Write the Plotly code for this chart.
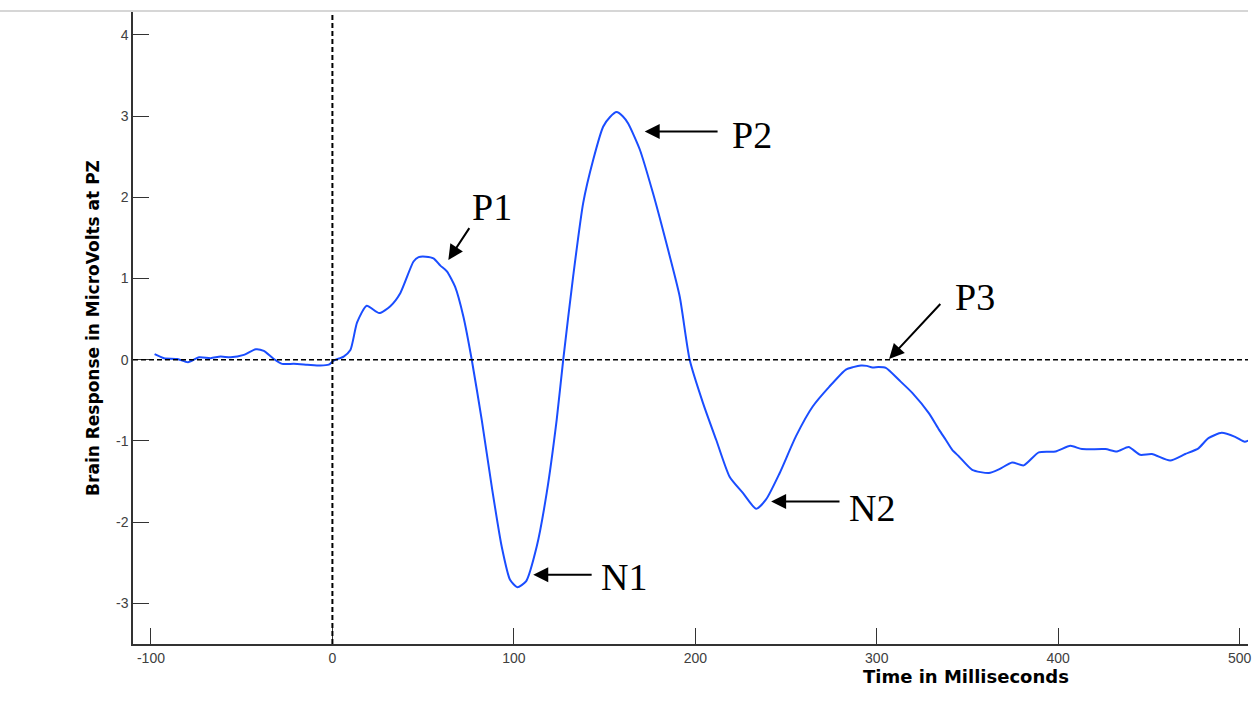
import plotly.graph_objects as go

# ---- data ----
time_ms = [-98, -92.8, -85.4, -79.6, -73.5, -67.1, -61.6, -56.1, -48.8, -42.3, -37.8, -32.3,
           -27.7, -21.3, -13.9, -6.6, -2, 0.7, 6.2, 9.9, 13.6, 18.9, 25.8, 31.9, 37.4, 44.7,
           47.5, 51.5, 55.7, 59.5, 63.1, 67.6, 72.2, 76.8, 82.3, 87.8, 93.3, 97.9, 101.9,
           106.7, 112.6, 118.1, 123.6, 127.2, 132.7, 138.2, 143.7, 149.2, 153, 156.6, 160,
           163, 169.4, 176.7, 184, 191.4, 196.9, 204.2, 211.5, 218.9, 226.2, 233.5, 239,
           246.4, 255.5, 264.7, 273.9, 283, 287, 291.3, 294.5, 297.6, 301, 305, 312.3, 319.7,
           328.8, 334.3, 338, 341.6, 345.3, 352.6, 361.8, 367.3, 374.6, 381, 389.3, 398.5,
           406.7, 413.1, 426, 432.4, 438.8, 445.2, 451.6, 461.7, 470, 477.3, 482.8, 490.1,
           497.5, 502.8, 505.7]
microvolts = [0.07, 0.02, 0.01, -0.03, 0.03, 0.02, 0.04, 0.03, 0.06, 0.13, 0.11, 0.01,
              -0.05, -0.05, -0.06, -0.07, -0.06, -0.01, 0.04, 0.12, 0.46, 0.665, 0.575, 0.66,
              0.82, 1.21, 1.265, 1.27, 1.25, 1.16, 1.09, 0.90, 0.53, 0.0, -0.74, -1.56, -2.30,
              -2.71, -2.80, -2.73, -2.30, -1.64, -0.74, 0.0, 1.03, 1.93, 2.46, 2.87, 2.99, 3.05,
              3.0, 2.91, 2.59, 2.05, 1.44, 0.78, 0.0, -0.53, -0.985, -1.44, -1.64, -1.835, -1.72,
              -1.40, -0.94, -0.575, -0.33, -0.12, -0.09, -0.07, -0.075, -0.095, -0.09, -0.10,
              -0.25, -0.41, -0.66, -0.86, -0.985, -1.11, -1.19, -1.355, -1.395, -1.35, -1.265,
              -1.30, -1.14, -1.13, -1.06, -1.10, -1.10, -1.13, -1.075, -1.17, -1.16, -1.24,
              -1.16, -1.09, -0.965, -0.90, -0.95, -1.01, -0.985]

x_ticks = [-100, 0, 100, 200, 300, 400, 500]
y_ticks = [-3, -2, -1, 0, 1, 2, 3, 4]

# peak labels: name, arrow head (t, v), arrow tail (t, v), label centre (t, v)
peak_names = ["P1", "N1", "P2", "N2", "P3"]
head_t = [63.9, 110.7, 172.1, 241.8, 306.8]
head_v = [1.23, -2.648, 2.81, -1.745, 0.01]
tail_t = [76.0, 143.7, 213.1, 280.3, 335.8]
tail_v = [1.64, -2.648, 2.81, -1.745, 0.706]
label_t = [88.2, 160.8, 231.2, 297.5, 354.1]
label_v = [1.88, -2.68, 2.77, -1.82, 0.77]

X_RANGE = [-109.9, 504.6]
Y_RANGE = [-3.5, 4.283]

fig = go.Figure()
fig.add_trace(go.Scatter(x=time_ms, y=microvolts, mode="lines",
                         line=dict(color="#1a4dff", width=2, shape="spline", smoothing=0.6),
                         showlegend=False, hoverinfo="skip"))

# dashed reference lines
fig.add_shape(type="line", xref="x", yref="paper", x0=0, x1=0, y0=0, y1=1,
              line=dict(color="black", width=2, dash="5px,3px"))
fig.add_shape(type="line", xref="paper", yref="y", x0=0, x1=1, y0=0, y1=0,
              line=dict(color="black", width=1.6, dash="5px,3px"))
# thin frame line at the top of the picture
fig.add_shape(type="line", xref="paper", yref="paper", x0=-0.2, x1=1.0, y0=1.0016, y1=1.0016,
              line=dict(color="#c8c8c8", width=1.5))

for name, ht, hv, tt, tv, lt, lv in zip(peak_names, head_t, head_v, tail_t, tail_v,
                                        label_t, label_v):
    fig.add_annotation(x=ht, y=hv, ax=tt, ay=tv, xref="x", yref="y", axref="x", ayref="y",
                       text="", showarrow=True, arrowhead=2, arrowsize=1.5, arrowwidth=2,
                       arrowcolor="black", standoff=0, startstandoff=0)
    fig.add_annotation(x=lt, y=lv, xref="x", yref="y", text=name, showarrow=False,
                       font=dict(family="Liberation Serif", size=38, color="black"),
                       xanchor="center", yanchor="middle")

fig.add_annotation(x=0.747, y=-0.052, xref="paper", yref="paper",
                   text="<b>Time in Milliseconds</b>", showarrow=False,
                   font=dict(family="DejaVu Sans", size=18, color="black"),
                   xanchor="center", yanchor="middle")

tick_font = dict(family="Liberation Sans", size=14, color="#404040")
fig.update_xaxes(range=X_RANGE, tickvals=x_ticks, ticktext=[str(v) for v in x_ticks],
                 ticks="inside", ticklen=16, tickwidth=1, tickcolor="#333",
                 showline=True, linecolor="#333", linewidth=1.5, mirror=False,
                 showgrid=False, zeroline=False, ticklabeloverflow="allow",
                 tickfont=tick_font)
fig.update_yaxes(range=Y_RANGE, tickvals=y_ticks, ticktext=[str(v) for v in y_ticks],
                 ticks="inside", ticklen=16, tickwidth=1, tickcolor="#333",
                 showline=True, linecolor="#333", linewidth=1.5, mirror=False,
                 showgrid=False, zeroline=False, tickfont=tick_font,
                 title=dict(text="<b>Brain Response in MicroVolts at PZ</b>",
                            font=dict(family="DejaVu Sans", size=17, color="black"),
                            standoff=12))

fig.update_layout(width=1252, height=726, margin=dict(l=133, r=0, t=12, b=82),
                  paper_bgcolor="white", plot_bgcolor="white")

fig.write_html("out.html")
